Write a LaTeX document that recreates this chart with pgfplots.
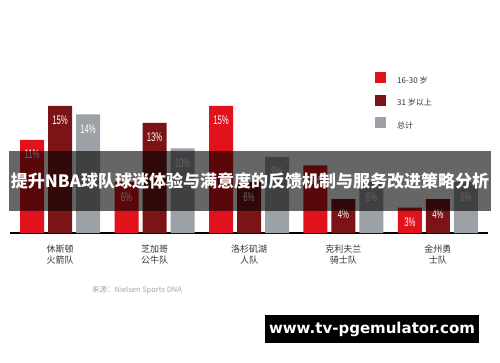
\documentclass[border=0pt]{standalone}
\usepackage{pgfplots}
\pgfplotsset{compat=1.18}
\usepackage{fontspec}
\setmainfont{Noto Sans CJK SC}
\newfontfamily\cjk{Noto Sans CJK SC}
\newfontfamily\narrowf[FakeStretch=0.62]{Liberation Sans}
\newfontfamily\wmfont{DejaVu Sans}
\definecolor{cRed}{HTML}{E2121C}
\definecolor{cDark}{HTML}{7B1416}
\definecolor{cGray}{HTML}{9BA1A6}
\definecolor{cText}{HTML}{333333}
\begin{document}
\begin{tikzpicture}
\path[use as bounding box, fill=white] (0,0) rectangle (500pt,362pt);
\begin{axis}[
  at={(10pt,129pt)}, anchor=south west,
  scale only axis, width=478pt, height=135.5pt,
  xmin=-0.53, xmax=4.53, ymin=0, ymax=16,
  ybar=4pt, bar width=24pt,
  axis x line=bottom, axis y line=none,
  x axis line style={-, line width=1.6pt, black},
  xtick={0,1,2,3,4},
  xticklabels={{休斯顿\\火箭队},{芝加哥\\公牛队},{洛杉矶湖\\人队},{克利夫兰\\骑士队},{金州勇\\士队}},
  major tick length=0pt,
  xticklabel style={align=center, font=\cjk\fontsize{9}{11}\selectfont, text=cText, yshift=-8pt},
  clip=false,
  /pgf/number format/assume math mode=true,
  nodes near coords={\pgfmathprintnumber{\pgfplotspointmeta}\%},
  every node near coord/.append style={anchor=north, inner sep=0pt, yshift=-10pt, text=white, font=\narrowf\fontsize{12.5}{12.5}\selectfont},
  legend style={at={(0.7636,1.188)}, anchor=north west, draw=none, fill=none, inner sep=0pt,
    row sep=8pt, font=\cjk\fontsize{8}{8}\selectfont, text=cText,
    /tikz/every odd column/.append style={column sep=9pt}},
  legend cell align=left,
]
\addplot[fill=cRed, draw=none, legend image code/.code={\fill[cRed] (0pt,-2.5pt) rectangle (11pt,8.5pt);}]
  coordinates {(0,11) (1,6) (2,15) (3,8) (4,3)};
\addplot[fill=cDark, draw=none, legend image code/.code={\fill[cDark] (0pt,-2.5pt) rectangle (11pt,8.5pt);}]
  coordinates {(0,15) (1,13) (2,6) (3,4) (4,4)};
\addplot[fill=cGray, draw=none, legend image code/.code={\fill[cGray] (0pt,-2.5pt) rectangle (11pt,8.5pt);}]
  coordinates {(0,14) (1,10) (2,9) (3,6) (4,6)};
\legend{16-30 岁, 31 岁以上, 总计}
\end{axis}
\node[text=black!35, font=\cjk\fontsize{7.5}{7.5}\selectfont] at (137pt,72pt) {来源：Nielsen Sports DNA};
\fill[black, opacity=0.6] (9pt,151pt) rectangle (491pt,211pt);
\node[text=white, font=\cjk\bfseries\fontsize{17}{17}\selectfont, inner sep=0pt] at (250pt,181pt) {提升NBA球队球迷体验与满意度的反馈机制与服务改进策略分析};
\node[fill=black, text=white, font=\wmfont\bfseries\fontsize{15}{15}\selectfont, minimum width=214pt, minimum height=28pt, inner sep=0pt] at (372pt,33pt) {www.tv-pgemulator.com};
\end{tikzpicture}
\end{document}
